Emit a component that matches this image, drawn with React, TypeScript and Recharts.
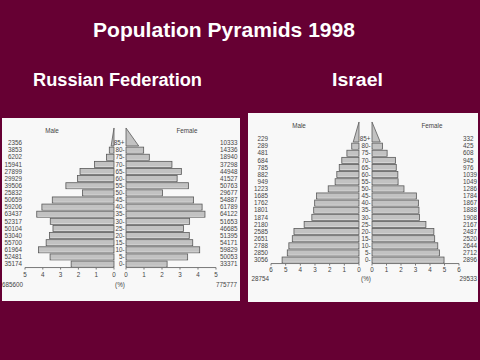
import { BarChart, Bar, XAxis, YAxis } from 'recharts';

// age groups, oldest first (top of the pyramid)
const ages = ['85+', '80-', '75-', '70-', '65-', '60-', '55-', '50-', '45-', '40-', '35-', '30-', '25-', '20-', '15-', '10-', '5-', '0-'];

const russiaMale = [2356, 3853, 6202, 15941, 27899, 29929, 39506, 25832, 50659, 59206, 63437, 52317, 50104, 53040, 55700, 61964, 52481, 35174];
const russiaFemale = [10333, 14336, 18940, 37298, 44948, 41527, 50763, 29677, 54887, 61789, 64122, 51653, 46685, 51395, 54171, 59829, 50053, 33371];

const israelMale = [229, 289, 481, 684, 785, 882, 949, 1223, 1685, 1762, 1801, 1874, 2180, 2585, 2651, 2788, 2850, 3056];
const israelFemale = [332, 425, 608, 945, 976, 1039, 1049, 1286, 1784, 1867, 1888, 1908, 2167, 2487, 2520, 2644, 2712, 2896];

const russiaTicks = [0, 1, 2, 3, 4, 5];
const israelTicks = [0, 1, 2, 3, 4, 5, 6];

const sum = (a: number[]) => a.reduce((s, v) => s + v, 0);

// bars show each group's share of the whole population (both sexes)
function buildRows(male: number[], female: number[]) {
  const total = sum(male) + sum(female);
  return ages.map((age, i) => ({
    age,
    male: male[i],
    female: female[i],
    malePct: (male[i] / total) * 100,
    femalePct: (female[i] / total) * 100,
  }));
}

const russiaRows = buildRows(russiaMale, russiaFemale);
const israelRows = buildRows(israelMale, israelFemale);

const FONT = '"Liberation Sans", Arial, sans-serif';
const tickStyle = { fontSize: 6.3, fill: '#444', fontFamily: FONT };
const BAR_FILL = '#c2c2c2';
const BAR_STROKE = '#5a5a5a';

// regular bar, except the top group which is drawn as the pyramid's tip
function pyramidShape(side: 'male' | 'female', apex: number) {
  return (props: any) => {
    const { x, y, width, height, payload } = props;
    const a = x;
    const b = x + width;
    const origin = side === 'male' ? Math.max(a, b) : Math.min(a, b);
    const end = side === 'male' ? Math.min(a, b) : Math.max(a, b);
    if (payload && payload.age === ages[0]) {
      return (
        <polygon
          points={`${origin},${y - apex} ${end},${y + height} ${origin},${y + height}`}
          fill={BAR_FILL}
          stroke={BAR_STROKE}
          strokeWidth={0.8}
        />
      );
    }
    return (
      <g>
        <rect x={Math.min(a, b)} y={y} width={Math.abs(width)} height={height} fill={BAR_FILL} stroke={BAR_STROKE} strokeWidth={0.8} />
        <line x1={Math.min(a, b) + 1} x2={Math.max(a, b) - 1} y1={y + height - 0.8} y2={y + height - 0.8} stroke="#e6e6e6" strokeWidth={0.6} />
      </g>
    );
  };
}

type HalfProps = {
  rows: ReturnType<typeof buildRows>;
  side: 'male' | 'female';
  ticks: number[];
  left: number;
  top: number;
  width: number;
  rightPad: number;
  plotTop: number;
  axisH: number;
  countW: number;
  ageW: number;
  tickGap: number;
  apex: number;
};

function Half({ rows, side, ticks, left, top, width, rightPad, plotTop, axisH, countW, ageW, tickGap, apex }: HalfProps) {
  const plotH = ages.length * 7.12;
  const height = plotTop + plotH + axisH;
  const max = ticks[ticks.length - 1];
  const isMale = side === 'male';
  return (
    <div style={{ position: 'absolute', left, top }}>
      <BarChart
        width={width}
        height={height}
        data={rows}
        layout="vertical"
        margin={{ top: plotTop, right: rightPad, bottom: 0, left: 0 }}
        barCategoryGap={0.6}
      >
        <XAxis
          type="number"
          domain={[0, max]}
          ticks={ticks}
          reversed={isMale}
          height={axisH}
          tick={tickStyle}
          tickSize={2}
          tickMargin={tickGap}
          stroke="#777"
          interval={0}
        />
        {isMale ? (
          <YAxis
            yAxisId="main"
            type="category"
            dataKey="age"
            width={countW}
            tickSize={0}
            tickMargin={3}
            axisLine={false}
            tick={tickStyle}
            interval={0}
            tickFormatter={(_v: any, i: number) => String(rows[i]?.male ?? '')}
          />
        ) : (
          <YAxis
            yAxisId="main"
            type="category"
            dataKey="age"
            width={ageW}
            tickSize={0}
            tickMargin={1.5}
            axisLine={false}
            tick={tickStyle}
            interval={0}
          />
        )}
        {!isMale && (
          <YAxis
            yAxisId="count"
            orientation="right"
            type="category"
            dataKey="age"
            width={countW}
            tickSize={0}
            tickMargin={4}
            axisLine={false}
            tick={{ ...tickStyle, textAnchor: 'start' }}
            interval={0}
            tickFormatter={(_v: any, i: number) => String(rows[i]?.female ?? '')}
          />
        )}
        <Bar
          yAxisId="main"
          dataKey={isMale ? 'malePct' : 'femalePct'}
          isAnimationActive={false}
          shape={pyramidShape(side, apex)}
        />
      </BarChart>
    </div>
  );
}

export default function App() {
  const txt = { fontFamily: FONT, fontSize: 6.3, fill: '#444' };
  return (
    <div style={{ position: 'absolute', left: 0, top: 0, width: 480, height: 360, background: '#660033', overflow: 'hidden' }}>
      {/* panels */}
      <div style={{ position: 'absolute', left: 2, top: 118, width: 238, height: 183, background: '#f8f8f8' }} />
      <div style={{ position: 'absolute', left: 248, top: 113, width: 230, height: 189, background: '#f8f8f8' }} />

      {/* Russian Federation */}
      <Half rows={russiaRows} side="male" ticks={russiaTicks} left={0} top={118} width={120} rightPad={6} plotTop={21.4} axisH={14} countW={25} ageW={0} tickGap={3} apex={12} />
      <Half rows={russiaRows} side="female" ticks={russiaTicks} left={114} top={118} width={126} rightPad={0} plotTop={21.4} axisH={14} countW={24} ageW={12} tickGap={3} apex={12} />

      {/* Israel */}
      <Half rows={israelRows} side="male" ticks={israelTicks} left={248} top={113} width={117} rightPad={6} plotTop={22.4} axisH={12} countW={23} ageW={0} tickGap={1.5} apex={14} />
      <Half rows={israelRows} side="female" ticks={israelTicks} left={359} top={113} width={121} rightPad={0} plotTop={22.4} axisH={12} countW={21} ageW={13} tickGap={1.5} apex={14} />

      <svg width={480} height={360} style={{ position: 'absolute', left: 0, top: 0, pointerEvents: 'none' }}>
        <text x={93} y={37} fill="#fff" fontFamily={FONT} fontWeight="bold" fontSize={21} textLength={262} lengthAdjust="spacingAndGlyphs">
          Population Pyramids 1998
        </text>
        <text x={33} y={86} fill="#fff" fontFamily={FONT} fontWeight="bold" fontSize={18} textLength={169} lengthAdjust="spacingAndGlyphs">
          Russian Federation
        </text>
        <text x={332} y={86} fill="#fff" fontFamily={FONT} fontWeight="bold" fontSize={18} textLength={51} lengthAdjust="spacingAndGlyphs">
          Israel
        </text>

        <text x={52} y={133} textAnchor="middle" {...txt}>Male</text>
        <text x={187} y={133} textAnchor="middle" {...txt}>Female</text>
        <text x={23} y={287} textAnchor="end" {...txt}>{sum(russiaMale)}</text>
        <text x={120} y={287} textAnchor="middle" {...txt}>(%)</text>
        <text x={237} y={287} textAnchor="end" {...txt}>{sum(russiaFemale)}</text>

        <text x={299} y={128} textAnchor="middle" {...txt}>Male</text>
        <text x={432} y={128} textAnchor="middle" {...txt}>Female</text>
        <text x={269} y={281} textAnchor="end" {...txt}>{sum(israelMale)}</text>
        <text x={366} y={281} textAnchor="middle" {...txt}>(%)</text>
        <text x={477} y={281} textAnchor="end" {...txt}>{sum(israelFemale)}</text>
      </svg>
    </div>
  );
}
